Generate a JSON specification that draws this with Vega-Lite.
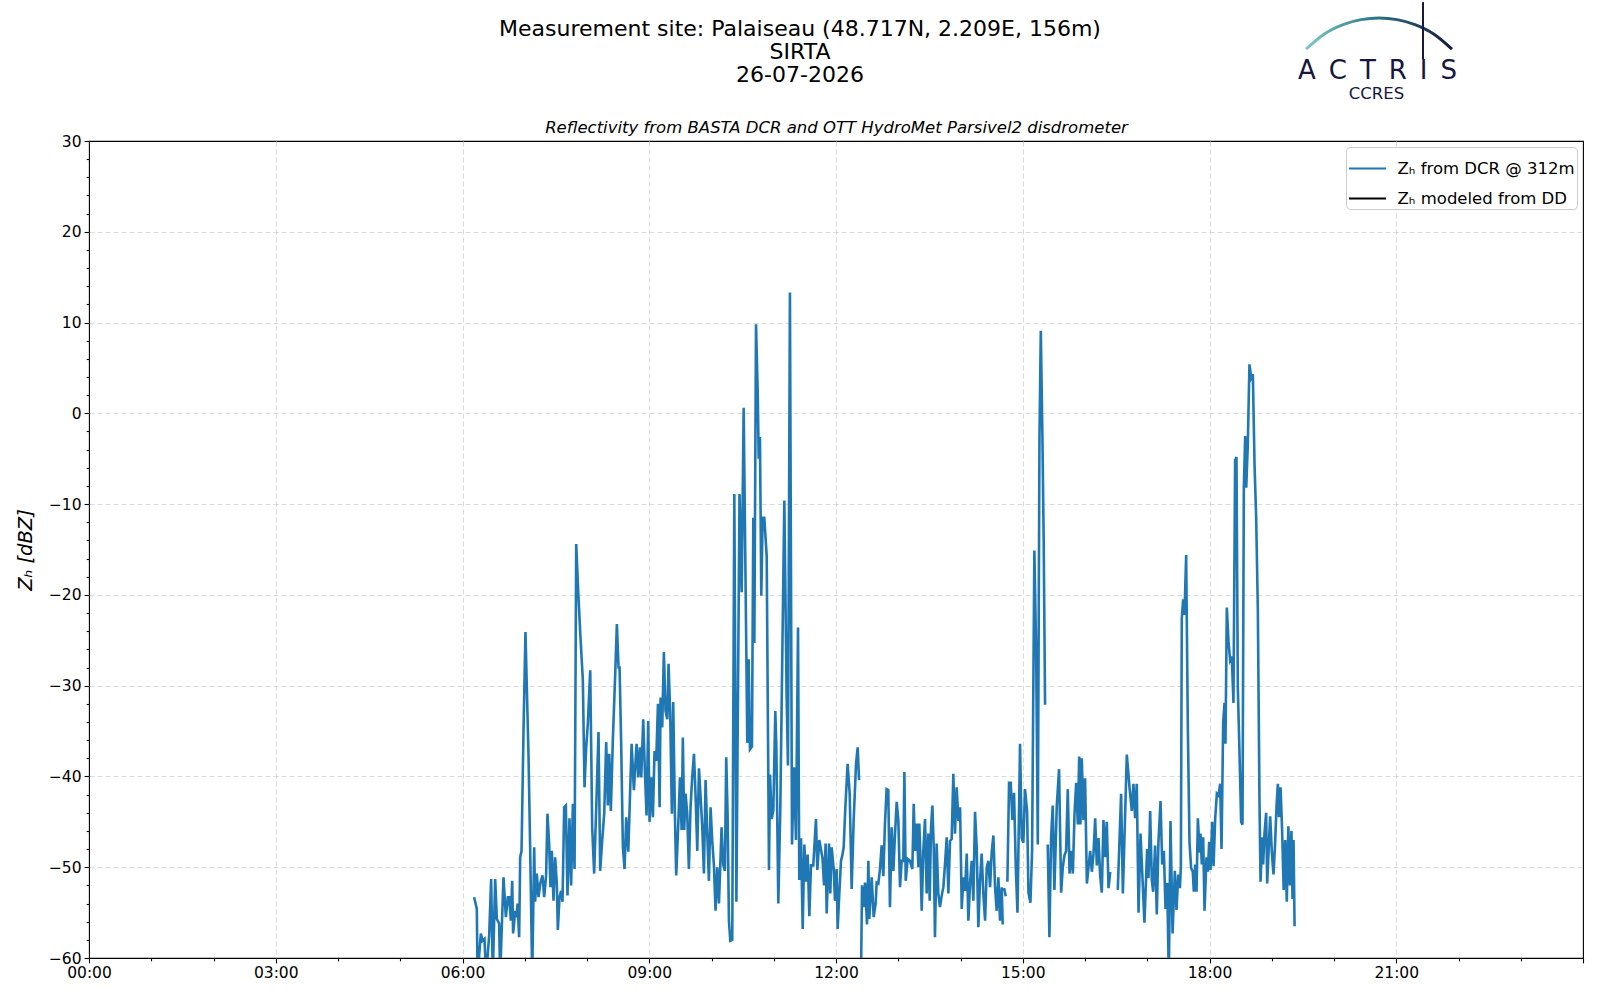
{
  "$schema": "https://vega.github.io/schema/vega-lite/v6.json",
  "width": 1494,
  "height": 817,
  "autosize": {"type": "none"},
  "padding": {"left": 89, "top": 141, "right": 17, "bottom": 42},
  "background": "white",
  "config": {
    "font": "DejaVu Sans",
    "view": {"stroke": "black", "strokeWidth": 1.1}
  },
  "resolve": {"axis": {"x": "independent", "y": "independent"}},
  "layer": [
    {
      "data": {"values": [
        {"m":371.2,"z":-53.3},{"m":373.8,"z":-54.6},{"m":374.5,"z":-62},{"m":377.7,"z":-57.3},{"m":379.3,"z":-58.1},{"m":381.2,"z":-57.9},{"m":382.8,"z":-62},{"m":385.7,"z":-57.5},{"m":387.6,"z":-51.3},{"m":389.2,"z":-62},
        {"m":391.5,"z":-51.3},{"m":393.1,"z":-55.7},{"m":395.3,"z":-56.2},{"m":396.3,"z":-62},{"m":399.5,"z":-51.1},{"m":401.8,"z":-55.5},{"m":403.7,"z":-53.3},{"m":405,"z":-53.3},{"m":406.6,"z":-55.9},{"m":407.9,"z":-51.5},
        {"m":408.8,"z":-57.3},{"m":410.8,"z":-54.8},{"m":412,"z":-55.5},{"m":413.1,"z":-54},{"m":414.6,"z":-57.7},{"m":415.6,"z":-48.9},{"m":416.9,"z":-48.2},{"m":418.8,"z":-35},{"m":420.7,"z":-24.1},{"m":422,"z":-30.2},
        {"m":423.6,"z":-37.5},{"m":425.2,"z":-47.8},{"m":427.2,"z":-62},{"m":429.1,"z":-47.8},{"m":430,"z":-53.8},{"m":431.6,"z":-50.7},{"m":433.3,"z":-53.3},{"m":434.9,"z":-51.8},{"m":437.1,"z":-50.9},{"m":438.7,"z":-53.3},
        {"m":440.6,"z":-50.9},{"m":441.9,"z":-44.1},{"m":443.5,"z":-47.4},{"m":444.8,"z":-52.2},{"m":446.1,"z":-48.2},{"m":447.7,"z":-53.7},{"m":449.3,"z":-48.9},{"m":450.9,"z":-51.8},{"m":451.9,"z":-56.9},{"m":453.5,"z":-53.3},
        {"m":455.1,"z":-52.6},{"m":456.4,"z":-53.8},{"m":458,"z":-43.4},{"m":459.6,"z":-43.2},{"m":461.2,"z":-53.1},{"m":463.1,"z":-44.6},{"m":464.7,"z":-52},{"m":466.4,"z":-43},{"m":468,"z":-50.2},{"m":469.6,"z":-14.4},
        {"m":471.2,"z":-18.8},{"m":473.4,"z":-24},{"m":476,"z":-29.4},{"m":477.6,"z":-41.2},{"m":479.2,"z":-36.8},{"m":480.8,"z":-34.2},{"m":483.1,"z":-28.3},{"m":485,"z":-45.6},{"m":486.9,"z":-50.7},{"m":489.5,"z":-41.2},
        {"m":491.1,"z":-35.1},{"m":492.7,"z":-50.4},{"m":494.6,"z":-47.1},{"m":496.6,"z":-44.1},{"m":498.5,"z":-36.2},{"m":500.1,"z":-43.2},{"m":501.4,"z":-37.5},{"m":503,"z":-43.8},{"m":504.9,"z":-36},{"m":507.2,"z":-28.7},
        {"m":508.8,"z":-23.2},{"m":510.4,"z":-28},{"m":511.4,"z":-28},{"m":513,"z":-36.8},{"m":514.6,"z":-47.8},{"m":516.2,"z":-50.2},{"m":517.8,"z":-44.5},{"m":519.8,"z":-48.3},{"m":521.4,"z":-42.3},{"m":523,"z":-36.4},
        {"m":525.2,"z":-41.5},{"m":527.8,"z":-36.4},{"m":529.4,"z":-40.1},{"m":531,"z":-36.8},{"m":532.3,"z":-40.1},{"m":534.2,"z":-33.7},{"m":535.8,"z":-39.4},{"m":537.4,"z":-44.3},{"m":539,"z":-33.9},{"m":540.3,"z":-45},
        {"m":541.9,"z":-40.1},{"m":543.5,"z":-44.5},{"m":545.1,"z":-37.2},{"m":546.7,"z":-38.3},{"m":548.4,"z":-32},{"m":550,"z":-43.4},{"m":550.9,"z":-31.3},{"m":552.5,"z":-34.6},{"m":554.1,"z":-26.3},{"m":555.7,"z":-32.8},
        {"m":557.4,"z":-33.7},{"m":558.6,"z":-27.6},{"m":560.2,"z":-33.1},{"m":561.8,"z":-44.1},{"m":563.1,"z":-31.8},{"m":564.7,"z":-44.1},{"m":566,"z":-50.9},{"m":568,"z":-45.2},{"m":569.6,"z":-40.1},{"m":571.2,"z":-45.9},
        {"m":572.4,"z":-35.7},{"m":573.7,"z":-45.9},{"m":575,"z":-41.9},{"m":576.6,"z":-44.1},{"m":578.2,"z":-50.2},{"m":579.8,"z":-43.4},{"m":581.4,"z":-40.1},{"m":583.1,"z":-37.5},{"m":584.7,"z":-42.3},{"m":586.3,"z":-48.2},
        {"m":587.9,"z":-39.1},{"m":589.5,"z":-42.3},{"m":591.1,"z":-45.6},{"m":592.7,"z":-50.7},{"m":594.3,"z":-40.4},{"m":595.9,"z":-46.3},{"m":597.5,"z":-51.5},{"m":599.1,"z":-43.4},{"m":600.7,"z":-47.1},{"m":602.3,"z":-49.7},
        {"m":603.9,"z":-54.8},{"m":605.5,"z":-50},{"m":607.2,"z":-54},{"m":609.7,"z":-45.6},{"m":611.3,"z":-49.7},{"m":612.9,"z":-50.4},{"m":614.2,"z":-37.9},{"m":615.5,"z":-44.1},{"m":616.8,"z":-55.9},{"m":618.1,"z":-58.1},
        {"m":620,"z":-58},{"m":622,"z":-8.9},{"m":624,"z":-53.8},{"m":627,"z":-8.9},{"m":629.1,"z":-19.7},{"m":631,"z":0.6},{"m":633,"z":-20.4},{"m":634.5,"z":-36.3},{"m":635.8,"z":-27.1},{"m":637.1,"z":-37},
        {"m":639,"z":-36.7},{"m":640.3,"z":-11.5},{"m":641.3,"z":-25.3},{"m":642.9,"z":9.8},{"m":644.5,"z":2.5},{"m":645.5,"z":-5},{"m":646.7,"z":-2.6},{"m":648,"z":-20.1},{"m":649.3,"z":-11.5},{"m":650.9,"z":-11.5},
        {"m":653.2,"z":-15.7},{"m":655.4,"z":-50.3},{"m":656.4,"z":-39.8},{"m":658,"z":-44.7},{"m":659.6,"z":-43.7},{"m":661.5,"z":-32.8},{"m":662.5,"z":-36.7},{"m":664.4,"z":-54},{"m":666.3,"z":-43.7},{"m":670.2,"z":-9.6},
        {"m":672.4,"z":-31.1},{"m":673.7,"z":-38.8},{"m":675.6,"z":13.3},{"m":677.6,"z":-47.5},{"m":679.5,"z":-39},{"m":681.4,"z":-47},{"m":683.4,"z":-23.6},{"m":684.6,"z":-51.4},{"m":686.3,"z":-46.8},{"m":687.9,"z":-56.8},
        {"m":689.5,"z":-47.5},{"m":691.1,"z":-51.6},{"m":692.7,"z":-48.6},{"m":694.3,"z":-55.4},{"m":695.9,"z":-49.8},{"m":698.1,"z":-49.8},{"m":700.7,"z":-44.7},{"m":702,"z":-50.3},{"m":703.9,"z":-47},{"m":707,"z":-49},
        {"m":708.5,"z":-52},{"m":710,"z":-47.4},{"m":711,"z":-55.1},{"m":713.3,"z":-47.4},{"m":714.5,"z":-52.9},{"m":715.8,"z":-47.8},{"m":717.8,"z":-50.2},{"m":719,"z":-53.7},{"m":720.6,"z":-50.2},{"m":721.6,"z":-56.8},
        {"m":723.2,"z":-52.9},{"m":724.8,"z":-49.3},{"m":726.1,"z":-48.7},{"m":727.4,"z":-47.8},{"m":729,"z":-43.4},{"m":731.2,"z":-38.6},{"m":733.2,"z":-41.9},{"m":735.1,"z":-52.4},{"m":737,"z":-44.9},{"m":739.3,"z":-38.6},
        {"m":740.9,"z":-36.8},{"m":742.2,"z":-40.4},{"m":743,"z":null},{"m":744.1,"z":-62},{"m":745.1,"z":-52},{"m":746.7,"z":-54.4},{"m":748,"z":-51.7},{"m":749.9,"z":-56.3},{"m":751.2,"z":-49.3},{"m":752.1,"z":-55.7},
        {"m":754.4,"z":-51.1},{"m":756.3,"z":-55.5},{"m":758.2,"z":-54},{"m":759.2,"z":-51.7},{"m":760.8,"z":-51.8},{"m":762.4,"z":-50.2},{"m":764,"z":-47.6},{"m":765.6,"z":-51},{"m":767.2,"z":-45.2},{"m":768.8,"z":-41.4},
        {"m":770.4,"z":-41.5},{"m":772,"z":-54.4},{"m":773.7,"z":-45.6},{"m":775.3,"z":-50.4},{"m":776.9,"z":-46.3},{"m":778.5,"z":-42.8},{"m":780.1,"z":-44.9},{"m":781.7,"z":-52.2},{"m":783.3,"z":-49.3},{"m":784.9,"z":-49.3},
        {"m":785.9,"z":-39.5},{"m":787.2,"z":-51.5},{"m":789.1,"z":-49.1},{"m":791.3,"z":-49.3},{"m":793.6,"z":-50.2},{"m":794.9,"z":-43},{"m":796.2,"z":-48.2},{"m":797.8,"z":-45.2},{"m":799.4,"z":-50},{"m":800.3,"z":-45.2},
        {"m":801.3,"z":-48.5},{"m":802.6,"z":-54.8},{"m":804.2,"z":-48.2},{"m":805.8,"z":-44.7},{"m":807.4,"z":-52.9},{"m":809,"z":-46.3},{"m":810.3,"z":-53.7},{"m":811.6,"z":-45.6},{"m":812.9,"z":-43.2},{"m":814.2,"z":-47.8},
        {"m":815.4,"z":-57.7},{"m":817,"z":-47.4},{"m":818.6,"z":-52.9},{"m":820.2,"z":-54.4},{"m":821.9,"z":-53.1},{"m":823.5,"z":-52.2},{"m":825.1,"z":-49.6},{"m":826.7,"z":-46.7},{"m":828.3,"z":-52.9},{"m":829.9,"z":-47.1},
        {"m":831.5,"z":-46.9},{"m":833.1,"z":-39.7},{"m":834.7,"z":-46.3},{"m":836.3,"z":-41.2},{"m":838,"z":-44.9},{"m":839.6,"z":-43.4},{"m":841.2,"z":-54.6},{"m":842.8,"z":-51.1},{"m":844.4,"z":-52.6},{"m":846,"z":-48.5},
        {"m":847.6,"z":-55.9},{"m":849.2,"z":-51.8},{"m":850.8,"z":-49.3},{"m":852.4,"z":-53.7},{"m":854,"z":-43.9},{"m":855.6,"z":-47.8},{"m":857.2,"z":-56.6},{"m":858.8,"z":-51.5},{"m":860.4,"z":-48.5},{"m":862,"z":-52.9},
        {"m":863.7,"z":-55.9},{"m":865.3,"z":-50},{"m":866.9,"z":-49.3},{"m":868.5,"z":-52.2},{"m":870.1,"z":-48.3},{"m":871.7,"z":-46.5},{"m":873.3,"z":-52.2},{"m":874.9,"z":-54.8},{"m":876.5,"z":-51.1},{"m":878.1,"z":-55.9},
        {"m":879.7,"z":-52.2},{"m":880.7,"z":-56.3},{"m":881.3,"z":null},{"m":882,"z":-52.3},{"m":883.6,"z":-53.2},{"m":884.3,"z":null},{"m":885.2,"z":-51.6},{"m":886.8,"z":-40.7},{"m":888.4,"z":-40.7},{"m":890,"z":-44.8},
        {"m":891.6,"z":-41.8},{"m":893.3,"z":-50},{"m":894.9,"z":-55},{"m":897.4,"z":-36.4},{"m":899,"z":-46.8},{"m":900.6,"z":-47.3},{"m":902.2,"z":-41.4},{"m":904.2,"z":-43.9},{"m":905.5,"z":-52.8},{"m":907.4,"z":-53.9},
        {"m":909,"z":-48.2},{"m":911.2,"z":-15.1},{"m":912.9,"z":-26},{"m":914.5,"z":-47.5},{"m":916.1,"z":-2.9},{"m":917.4,"z":9.1},{"m":919,"z":-2.9},{"m":920.2,"z":-14.2},{"m":921.5,"z":-32.1},{"m":922.8,"z":null},
        {"m":924.1,"z":-47.5},{"m":925.7,"z":-57.7},{"m":927.3,"z":-46.8},{"m":928.9,"z":-43.2},{"m":930.5,"z":-52.5},{"m":932.8,"z":-43.2},{"m":935,"z":-39.2},{"m":937,"z":-52.8},{"m":938.6,"z":-50},{"m":940.2,"z":-48.7},
        {"m":941.8,"z":-48.2},{"m":943.4,"z":-41.4},{"m":945.1,"z":-50.7},{"m":946.7,"z":-48.2},{"m":948.3,"z":-50.7},{"m":949.9,"z":-44.1},{"m":951.5,"z":-40.7},{"m":953.1,"z":-45.3},{"m":954.4,"z":-37.8},{"m":955.6,"z":-45.3},
        {"m":956.9,"z":-38},{"m":958.5,"z":-44.8},{"m":960.1,"z":-40.2},{"m":961.8,"z":-51.8},{"m":963.4,"z":-50},{"m":965,"z":-48.2},{"m":966.6,"z":-50.5},{"m":968.2,"z":-48.5},{"m":969.8,"z":-44.6},{"m":971.4,"z":-49.8},
        {"m":973,"z":-46.8},{"m":974.6,"z":-50.9},{"m":976.2,"z":-52.8},{"m":977.8,"z":-44.8},{"m":979.4,"z":-48.9},{"m":981,"z":-45},{"m":982.7,"z":-52.3},{"m":984.3,"z":-50.5},{"m":987,"z":null},{"m":991.6,"z":-52.5},
        {"m":994.8,"z":-41.9},{"m":996.5,"z":-52.9},{"m":1000.3,"z":-37.6},{"m":1002.9,"z":-41.2},{"m":1005.1,"z":-43.8},{"m":1006.7,"z":-40.8},{"m":1008.3,"z":-44.6},{"m":1009.9,"z":-40.8},{"m":1011.6,"z":-55},{"m":1013.5,"z":-46.3},
        {"m":1015.4,"z":-51.2},{"m":1017.3,"z":-56.1},{"m":1019.9,"z":-48},{"m":1021.2,"z":-51.2},{"m":1022.8,"z":-43.8},{"m":1024.4,"z":-51.4},{"m":1025.7,"z":-52.7},{"m":1027.6,"z":-47.6},{"m":1029.2,"z":-55.2},{"m":1030.8,"z":-47.2},
        {"m":1032.8,"z":-42.7},{"m":1034.4,"z":-49.7},{"m":1036,"z":-48.2},{"m":1037.6,"z":-54.6},{"m":1039.2,"z":-51.7},{"m":1040.8,"z":-62},{"m":1042.4,"z":-44.9},{"m":1044.4,"z":-57.3},{"m":1046.6,"z":-50.4},{"m":1048.2,"z":-54.7},
        {"m":1049.9,"z":-50.8},{"m":1051.5,"z":-52.3},{"m":1052.4,"z":-49.9},{"m":1053.3,"z":-22.6},{"m":1054.6,"z":-20.5},{"m":1055.9,"z":-22.2},{"m":1057.5,"z":-15.6},{"m":1059.1,"z":-34.4},{"m":1060.7,"z":-47.2},{"m":1062.3,"z":-50.1},
        {"m":1063.9,"z":-50.5},{"m":1064.9,"z":-52.7},{"m":1066.2,"z":-49.7},{"m":1067.5,"z":-52.7},{"m":1068.8,"z":-44.6},{"m":1070.4,"z":-48.4},{"m":1071.3,"z":-46.3},{"m":1072.6,"z":-49.7},{"m":1073.9,"z":-46.7},{"m":1075.2,"z":-54.8},
        {"m":1077.1,"z":-48.9},{"m":1078.4,"z":-50.5},{"m":1079.7,"z":-47.2},{"m":1081,"z":-50.3},{"m":1082.6,"z":-45},{"m":1083.9,"z":-49.9},{"m":1085.5,"z":-44.6},{"m":1087.1,"z":-41.9},{"m":1088.7,"z":-42.1},{"m":1090.3,"z":-40.8},
        {"m":1091.6,"z":-48},{"m":1093.2,"z":-34},{"m":1094.5,"z":-31.9},{"m":1095.4,"z":-36.4},{"m":1096.7,"z":-21.4},{"m":1098.3,"z":-25.1},{"m":1099.9,"z":-27.2},{"m":1101.5,"z":-26.8},{"m":1103.1,"z":-31.9},{"m":1104.7,"z":-5.2},
        {"m":1106,"z":-4.8},{"m":1107.3,"z":-30.2},{"m":1109.2,"z":-38.7},{"m":1110.5,"z":-45},{"m":1111.8,"z":-45.3},{"m":1113.1,"z":-8.2},{"m":1114.4,"z":-2.5},{"m":1115.4,"z":-8.2},{"m":1116.9,"z":-3.5},{"m":1118.5,"z":5.4},
        {"m":1120.2,"z":3.9},{"m":1121.8,"z":4.3},{"m":1123.4,"z":-5.6},{"m":1125,"z":-11.6},{"m":1126.6,"z":-21.7},{"m":1128.2,"z":-42.9},{"m":1129.2,"z":-51.6},{"m":1130.8,"z":-46.7},{"m":1131.7,"z":-49.7},{"m":1133,"z":-46.3},
        {"m":1134.6,"z":-44},{"m":1135.6,"z":-51.8},{"m":1137.2,"z":-47.6},{"m":1138.5,"z":-44.4},{"m":1140.1,"z":-48.4},{"m":1141.7,"z":-50.8},{"m":1143.3,"z":-47.2},{"m":1144.6,"z":-43.3},{"m":1145.9,"z":-40.8},{"m":1147,"z":-44.5},
        {"m":1148.5,"z":-41.2},{"m":1150,"z":-46},{"m":1151.5,"z":-52.5},{"m":1153,"z":-47},{"m":1154.5,"z":-53.8},{"m":1156,"z":-45.5},{"m":1157.5,"z":-52},{"m":1159,"z":-46},{"m":1160,"z":-53.5},{"m":1161,"z":-47},
        {"m":1162,"z":-56.5}
      ]},
      "mark": {"type": "line", "strokeWidth": 2.6, "clip": true},
      "encoding": {
        "x": {
          "field": "m", "type": "quantitative",
          "scale": {"domain": [0, 1440], "nice": false, "zero": false},
          "axis": {
            "orient": "bottom", "title": null, "domain": false,
            "values": [0,60,120,180,240,300,360,420,480,540,600,660,720,780,840,900,960,1020,1080,1140,1200,1260,1320,1380,1440],
            "labelExpr": "datum.value % 180 === 0 && datum.value < 1440 ? (datum.value < 600 ? '0' : '') + (datum.value / 60) + ':00' : ''",
            "labelOverlap": false, "labelFlush": false, "labelBound": false,
            "labelFont": "DejaVu Sans", "labelFontSize": 15.5, "labelColor": "black", "labelPadding": 3,
            "tickColor": "black", "tickWidth": 1.1,
            "tickSize": {"condition": {"test": "datum.value % 180 === 0", "value": 4.9}, "value": 2.8},
            "gridColor": "#d0d0d0", "gridDash": [5, 3], "gridWidth": 0.8,
            "gridOpacity": {"condition": {"test": "datum.value % 180 === 0 && datum.value > 0 && datum.value < 1440", "value": 1}, "value": 0}
          }
        },
        "y": {
          "field": "z", "type": "quantitative",
          "scale": {"domain": [-60, 30], "nice": false, "zero": false},
          "axis": {
            "title": "Zₕ [dBZ]", "titleFont": "DejaVu Sans", "titleFontStyle": "italic", "titleFontWeight": "normal",
            "titleFontSize": 19.5, "titleColor": "black", "titlePadding": 13, "domain": false,
            "values": [-60,-58,-56,-54,-52,-50,-48,-46,-44,-42,-40,-38,-36,-34,-32,-30,-28,-26,-24,-22,-20,-18,-16,-14,-12,-10,-8,-6,-4,-2,0,2,4,6,8,10,12,14,16,18,20,22,24,26,28,30],
            "labelExpr": "datum.value % 10 === 0 ? datum.label : ''",
            "labelOverlap": false, "labelFlush": false, "labelBound": false,
            "labelFont": "DejaVu Sans", "labelFontSize": 15.5, "labelColor": "black", "labelPadding": 3,
            "tickColor": "black", "tickWidth": 1.1,
            "tickSize": {"condition": {"test": "datum.value % 10 === 0", "value": 4.9}, "value": 2.8},
            "gridColor": "#d0d0d0", "gridDash": [5, 3], "gridWidth": 0.8,
            "gridOpacity": {"condition": {"test": "datum.value % 10 === 0 && datum.value > -60 && datum.value < 30", "value": 1}, "value": 0}
          }
        },
        "color": {
          "datum": "Zₕ from DCR @ 312m",
          "scale": {"domain": ["Zₕ from DCR @ 312m", "Zₕ modeled from DD"], "range": ["#1f77b4", "black"]},
          "legend": {
            "title": null, "orient": "top-right", "offset": 6,
            "symbolType": "stroke", "symbolStrokeWidth": 2.1, "symbolSize": 1369,
            "labelFont": "DejaVu Sans", "labelFontSize": 16.5, "labelColor": "black", "labelLimit": 400, "labelOffset": 10,
            "fillColor": "white", "strokeColor": "#cccccc", "cornerRadius": 4, "padding": 1.5, "rowPadding": 1
          }
        }
      }
    },
    {
      "data": {"values": [
        {"m":1173.0,"z":40.13},{"m":1190.4,"z":41.77},{"m":1208.7,"z":42.82},{"m":1226.0,"z":43.37},{"m":1243.4,"z":43.55},
        {"m":1260.7,"z":43.37},{"m":1278.1,"z":42.82},{"m":1296.4,"z":41.77},{"m":1313.7,"z":40.13}
      ]},
      "mark": {
        "type": "line", "strokeWidth": 3, "interpolate": "monotone", "clip": false,
        "color": {"gradient": "linear", "x1": 0, "y1": 0, "x2": 1, "y2": 0,
          "stops": [{"offset": 0, "color": "#7fcac5"}, {"offset": 0.45, "color": "#2b7c88"}, {"offset": 1, "color": "#17173f"}]}
      },
      "encoding": {
        "x": {
          "field": "m", "type": "quantitative",
          "axis": {
            "orient": "top", "labels": false, "ticks": false, "domain": false, "grid": false,
            "title": "Reflectivity from BASTA DCR and OTT HydroMet Parsivel2 disdrometer",
            "titleFont": "DejaVu Sans", "titleFontStyle": "italic", "titleFontWeight": "normal",
            "titleFontSize": 16.5, "titleColor": "black", "titlePadding": 6
          }
        },
        "y": {"field": "z", "type": "quantitative", "axis": null}
      }
    },
    {
      "data": {"values": [{}]},
      "mark": {"type": "rule", "strokeWidth": 2, "color": "#17173f", "clip": false},
      "encoding": {
        "x": {"datum": 1285.8, "type": "quantitative", "axis": null},
        "y": {"datum": 45.3, "type": "quantitative", "axis": null},
        "y2": {"datum": 39.0}
      }
    },
    {
      "data": {"values": [{}]},
      "mark": {"type": "text", "text": "A\u2002C\u2002T\u2002R\u2002I\u2002S", "font": "DejaVu Sans", "fontSize": 26, "color": "#17173f", "align": "center", "baseline": "alphabetic", "clip": false},
      "encoding": {
        "x": {"datum": 1241.9, "type": "quantitative", "axis": null},
        "y": {"datum": 36.87, "type": "quantitative", "axis": null}
      }
    },
    {
      "data": {"values": [{}]},
      "mark": {"type": "text", "text": "CCRES", "font": "DejaVu Sans", "fontSize": 16.5, "color": "#17173f", "align": "center", "baseline": "alphabetic", "clip": false},
      "encoding": {
        "x": {"datum": 1240.9, "type": "quantitative", "axis": null},
        "y": {"datum": 34.63, "type": "quantitative", "axis": null}
      }
    },
    {
      "data": {"values": [{}]},
      "mark": {"type": "text", "text": ["Measurement site: Palaiseau (48.717N, 2.209E, 156m)", "SIRTA", "26-07-2026"], "lineHeight": 23, "font": "DejaVu Sans", "fontSize": 22, "color": "black", "align": "center", "baseline": "alphabetic", "clip": false},
      "encoding": {
        "x": {"datum": 685.3, "type": "quantitative", "axis": null},
        "y": {"datum": 41.6, "type": "quantitative", "axis": null}
      }
    }
  ]
}
